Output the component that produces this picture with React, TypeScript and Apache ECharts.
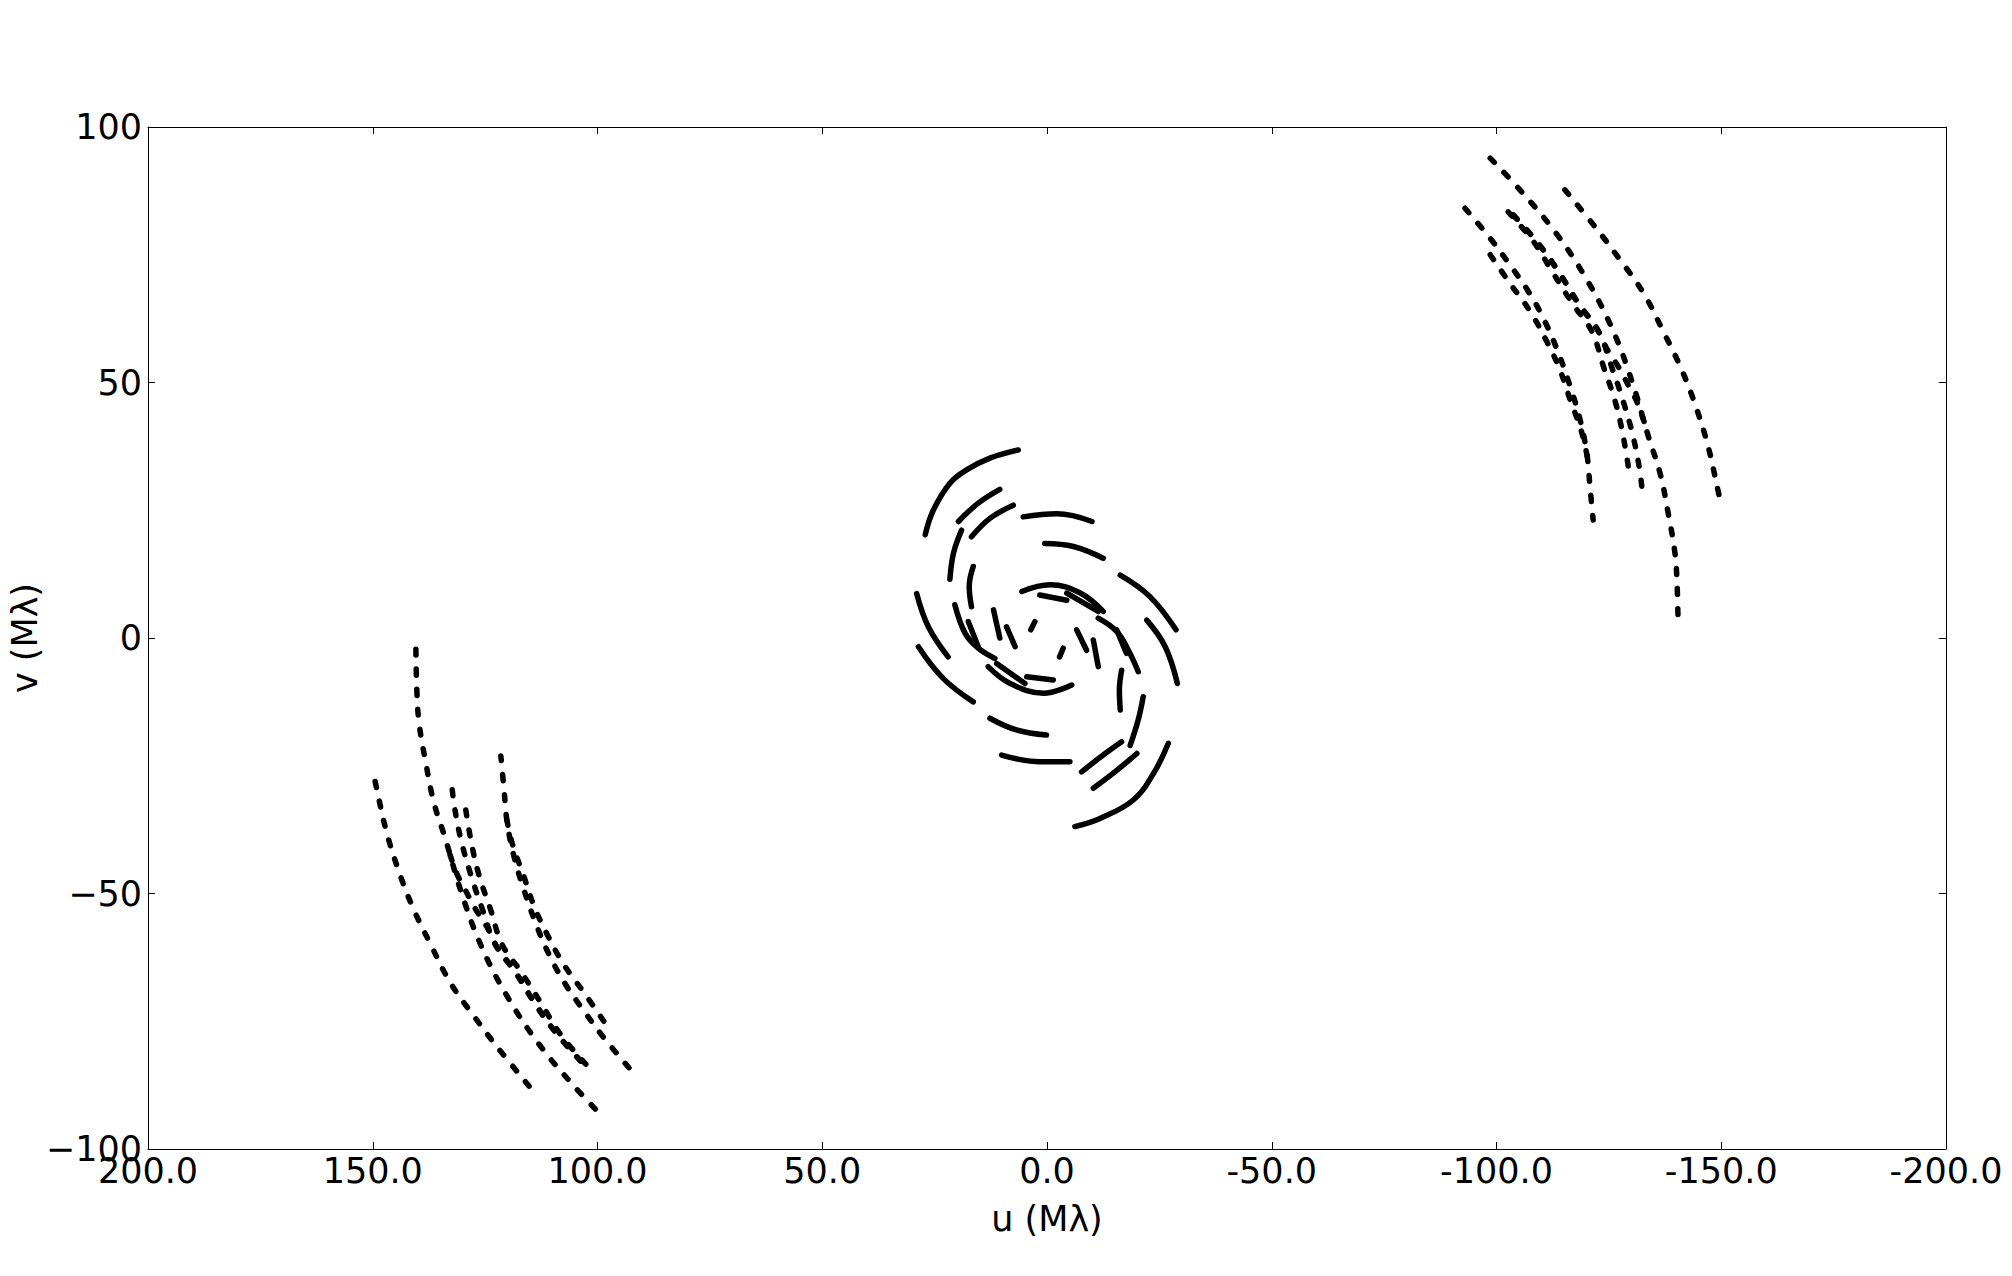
import React, { useEffect, useRef } from "react";
import * as echarts from "echarts";

// Axis ranges / ticks
const uTicks = [200, 150, 100, 50, 0, -50, -100, -150, -200];
const vTicks = [100, 50, 0, -50, -100];

// ---- Long-baseline tracks, upper-right side (u, v in Mlambda) ----
const trackA_ur = [[-98.6, 93.9], [-105.2, 87.7], [-113.0, 79.5], [-120.1, 70.1], [-126.0, 60.0], [-130.4, 49.5], [-133.8, 39.4], [-136.4, 32.2], [-138.2, 24.4], [-139.7, 16.6], [-140.2, 10.0], [-140.4, 2.2]];
const trackB_ur = [[-115.2, 87.7], [-121.9, 80.5], [-127.5, 74.0], [-132.7, 67.5], [-137.1, 60.0], [-141.2, 52.5], [-144.5, 44.9], [-147.1, 37.4], [-149.0, 30.0], [-150.1, 25.4]];
const trackC1_ur = [[-93.0, 84.1], [-98.6, 78.2], [-103.0, 73.0], [-107.1, 67.8], [-110.8, 61.9], [-113.8, 55.7], [-116.4, 49.2], [-118.6, 42.7], [-120.1, 36.1], [-120.8, 29.6], [-121.5, 23.1]];
const trackC2_ur = [[-98.6, 75.0], [-103.0, 69.4], [-107.5, 63.9], [-111.2, 58.0], [-114.1, 52.5], [-116.4, 46.6], [-119.0, 40.1], [-120.4, 34.5]];
const trackD1_ur = [[-102.6, 83.4], [-108.2, 77.6], [-112.6, 71.4], [-117.1, 65.2], [-121.2, 60.0], [-123.8, 53.1], [-126.4, 46.3], [-128.2, 39.4], [-129.7, 31.3]];
const trackD2_ur = [[-103.7, 82.8], [-109.3, 77.2], [-113.8, 71.7], [-118.2, 65.5], [-122.7, 60.0], [-125.6, 53.1], [-128.2, 46.3], [-130.4, 39.4], [-131.9, 32.6], [-132.5, 28.0]];
const trackX_ur = [[-103.7, 82.8], [-109.3, 77.2], [-113.8, 71.7], [-118.2, 65.5], [-122.7, 60.0], [-124.5, 56.7], [-127.1, 53.1], [-129.3, 49.5], [-131.2, 46.3], [-132.7, 42.7], [-133.4, 40.7]];

// ---- Long-baseline tracks, lower-left side ----
const trackA_ll = [[140.4, -2.2], [140.2, -10.0], [139.7, -16.6], [138.2, -24.4], [136.4, -32.2], [133.8, -39.4], [130.4, -49.5], [126.0, -60.0], [120.1, -70.1], [113.0, -79.5], [105.2, -87.7], [98.6, -93.9]];
const trackB_ll = [[115.2, -87.7], [121.9, -80.5], [127.5, -74.0], [132.7, -67.5], [137.1, -60.0], [141.2, -52.5], [144.5, -44.9], [147.1, -37.4], [149.0, -30.0], [150.1, -25.4]];
const trackC1_ll = [[93.0, -84.1], [98.6, -78.2], [103.0, -73.0], [107.1, -67.8], [110.8, -61.9], [113.8, -55.7], [116.4, -49.2], [118.6, -42.7], [120.1, -36.1], [120.8, -29.6], [121.5, -23.1]];
const trackC2_ll = [[98.6, -75.0], [103.0, -69.4], [107.5, -63.9], [111.2, -58.0], [114.1, -52.5], [116.4, -46.6], [119.0, -40.1], [120.4, -34.5]];
const trackD1_ll = [[102.6, -83.4], [108.2, -77.6], [112.6, -71.4], [117.1, -65.2], [121.2, -60.0], [123.8, -53.1], [126.4, -46.3], [128.2, -39.4], [129.7, -31.3]];
const trackD2_ll = [[103.7, -82.8], [109.3, -77.2], [113.8, -71.7], [118.2, -65.5], [122.7, -60.0], [125.6, -53.1], [128.2, -46.3], [130.4, -39.4], [131.9, -32.6], [132.5, -28.0]];
const trackX_ll = [[103.7, -82.8], [109.3, -77.2], [113.8, -71.7], [118.2, -65.5], [122.7, -60.0], [124.5, -56.7], [127.1, -53.1], [129.3, -49.5], [131.2, -46.3], [132.7, -42.7], [133.4, -40.7]];

// ---- Short-baseline arcs in the centre ----
const c01 = [[27.1, 20.2], [25.3, 25.0], [21.6, 30.3], [17.9, 32.9], [12.7, 35.2], [6.4, 36.8]];
const c01m = [[-27.0, -20.6], [-23.7, -26.5], [-19.2, -31.7], [-11.8, -35.3], [-6.2, -36.9]];
const c02 = [[19.7, 22.8], [15.3, 26.4], [10.5, 29.1]];
const c02m = [[-10.3, -29.4], [-15.1, -26.2], [-20.0, -22.6]];
const c03 = [[16.8, 19.8], [12.7, 23.4], [7.5, 26.0]];
const c03m = [[-7.7, -26.2], [-12.5, -22.9], [-16.6, -20.3]];
const c04 = [[5.3, 23.7], [-2.2, 24.3], [-10.0, 22.8]];
const c04m = [[10.1, -22.9], [1.6, -24.2], [-5.1, -24.2]];
const c05 = [[0.5, 18.5], [-5.9, 17.9], [-12.5, 15.6]];
const c05m = [[12.7, -15.7], [6.8, -18.0], [0.1, -19.0]];
const c06 = [[-16.3, 12.3], [-22.9, 8.1], [-28.7, 1.6]];
const c06m = [[28.6, -1.7], [23.1, -7.9], [16.4, -12.5]];
const c07 = [[-22.2, 3.5], [-26.3, -1.7], [-29.0, -8.9]];
const c07m = [[29.0, 8.7], [26.4, 2.2], [22.0, -3.7]];
const c08 = [[19.0, 21.1], [20.8, 16.6], [21.6, 11.5]];
const c08m = [[-21.4, -11.5], [-20.3, -16.0], [-18.5, -21.0]];
const c09 = [[16.4, 14.0], [17.3, 10.1], [16.8, 6.1]];
const c09m = [[-16.6, -6.3], [-16.1, -10.2], [-16.3, -14.1]];
const c10 = [[20.5, 6.5], [18.2, 0.9], [15.3, -2.0], [11.6, -4.0]];
const c10m = [[-11.4, 3.9], [-15.5, 1.3], [-18.1, -2.4], [-20.3, -6.6]];
const c11 = [[17.5, 3.2], [15.3, -1.7]];
const c11m = [[-15.5, 1.6], [-17.7, -3.0]];
const c12 = [[5.6, 9.1], [-0.7, 10.4], [-7.4, 8.8], [-12.5, 5.2]];
const c12m = [[13.1, -5.6], [8.2, -8.9], [0.8, -10.8], [-5.5, -9.2]];
const c13 = [[1.6, 8.4], [-4.4, 7.4]];
const c13m = [[4.5, -7.6], [-1.4, -8.2]];
const c14 = [[-4.4, 8.8], [-11.4, 5.2]];
const c14m = [[11.2, -5.0], [4.9, -8.9]];
const c15 = [[11.9, 5.5], [10.5, 0.0]];
const c15m = [[-10.3, -0.4], [-11.4, -5.6]];
const c16 = [[9.0, 2.2], [7.1, -1.7]];
const c16m = [[-6.6, 1.6], [-8.8, -2.4]];
const c17 = [[2.7, 3.2], [3.6, 1.6]];
const c17m = [[-3.6, -2.0], [-2.8, -3.7]];

const outerTracks = [
  trackA_ur, trackB_ur, trackC1_ur, trackC2_ur, trackD1_ur, trackD2_ur, trackX_ur,
  trackA_ll, trackB_ll, trackC1_ll, trackC2_ll, trackD1_ll, trackD2_ll, trackX_ll,
];
const centralArcs = [
  c01, c01m, c02, c02m, c03, c03m, c04, c04m, c05, c05m, c06, c06m, c07, c07m,
  c08, c08m, c09, c09m, c10, c10m, c11, c11m, c12, c12m, c13, c13m, c14, c14m,
  c15, c15m, c16, c16m, c17, c17m,
];

const FONT = "DejaVu Sans";

export default function App() {
  const ref = useRef<HTMLDivElement>(null);

  useEffect(() => {
    if (!ref.current) return;
    const chart = echarts.init(ref.current, null, { renderer: "svg" });

    const frameLine = { show: true, onZero: false, lineStyle: { color: "#000", width: 1 } };
    const tick = { show: true, inside: true, length: 7, lineStyle: { color: "#000", width: 1 } };

    const series: any[] = [];
    outerTracks.forEach((d) =>
      series.push({
        type: "line",
        data: d,
        smooth: 0.4,
        symbol: "none",
        silent: true,
        xAxisIndex: 0,
        yAxisIndex: 0,
        lineStyle: { color: "#000", width: 5.5, type: [6, 14], cap: "round" },
      })
    );
    centralArcs.forEach((d) =>
      series.push({
        type: "line",
        data: d,
        smooth: 0.4,
        symbol: "none",
        silent: true,
        xAxisIndex: 0,
        yAxisIndex: 0,
        lineStyle: { color: "#000", width: 5.5, type: "solid", cap: "round" },
      })
    );

    chart.setOption({
      animation: false,
      backgroundColor: "#ffffff",
      grid: { left: 148, top: 127, right: 66, bottom: 127, containLabel: false, outerBoundsMode: "none" },
      xAxis: [
        {
          type: "value",
          min: uTicks[uTicks.length - 1],
          max: uTicks[0],
          interval: 50,
          inverse: true,
          position: "bottom",
          axisLine: frameLine,
          axisTick: tick,
          splitLine: { show: false },
          axisLabel: {
            show: true,
            showMinLabel: true,
            showMaxLabel: true,
            margin: 4,
            color: "#000",
            fontSize: 35,
            fontFamily: FONT,
            formatter: (v: number) => v.toFixed(1),
          },
          name: "u (Mλ)",
          nameLocation: "middle",
          nameGap: 52,
          nameMoveOverlap: false,
          nameTextStyle: { color: "#000", fontSize: 35, fontFamily: FONT },
        },
        {
          type: "value",
          min: uTicks[uTicks.length - 1],
          max: uTicks[0],
          interval: 50,
          inverse: true,
          position: "top",
          axisLine: frameLine,
          axisTick: tick,
          splitLine: { show: false },
          axisLabel: { show: false },
        },
      ],
      yAxis: [
        {
          type: "value",
          min: vTicks[vTicks.length - 1],
          max: vTicks[0],
          interval: 50,
          position: "left",
          axisLine: frameLine,
          axisTick: tick,
          splitLine: { show: false },
          axisLabel: {
            show: true,
            showMinLabel: true,
            showMaxLabel: true,
            margin: 6,
            color: "#000",
            fontSize: 35,
            fontFamily: FONT,
            formatter: (v: number) => (v < 0 ? "\u2212" + Math.abs(v) : String(v)),
          },
          name: "v (Mλ)",
          nameLocation: "middle",
          nameGap: 106,
          nameMoveOverlap: false,
          nameTextStyle: { color: "#000", fontSize: 35, fontFamily: FONT },
        },
        {
          type: "value",
          min: vTicks[vTicks.length - 1],
          max: vTicks[0],
          interval: 50,
          position: "right",
          axisLine: frameLine,
          axisTick: tick,
          splitLine: { show: false },
          axisLabel: { show: false },
        },
      ],
      series,
    });

    return () => chart.dispose();
  }, []);

  return (
    <div
      ref={ref}
      style={{ position: "fixed", left: 0, top: 0, width: 2012, height: 1276, background: "#fff" }}
    />
  );
}
